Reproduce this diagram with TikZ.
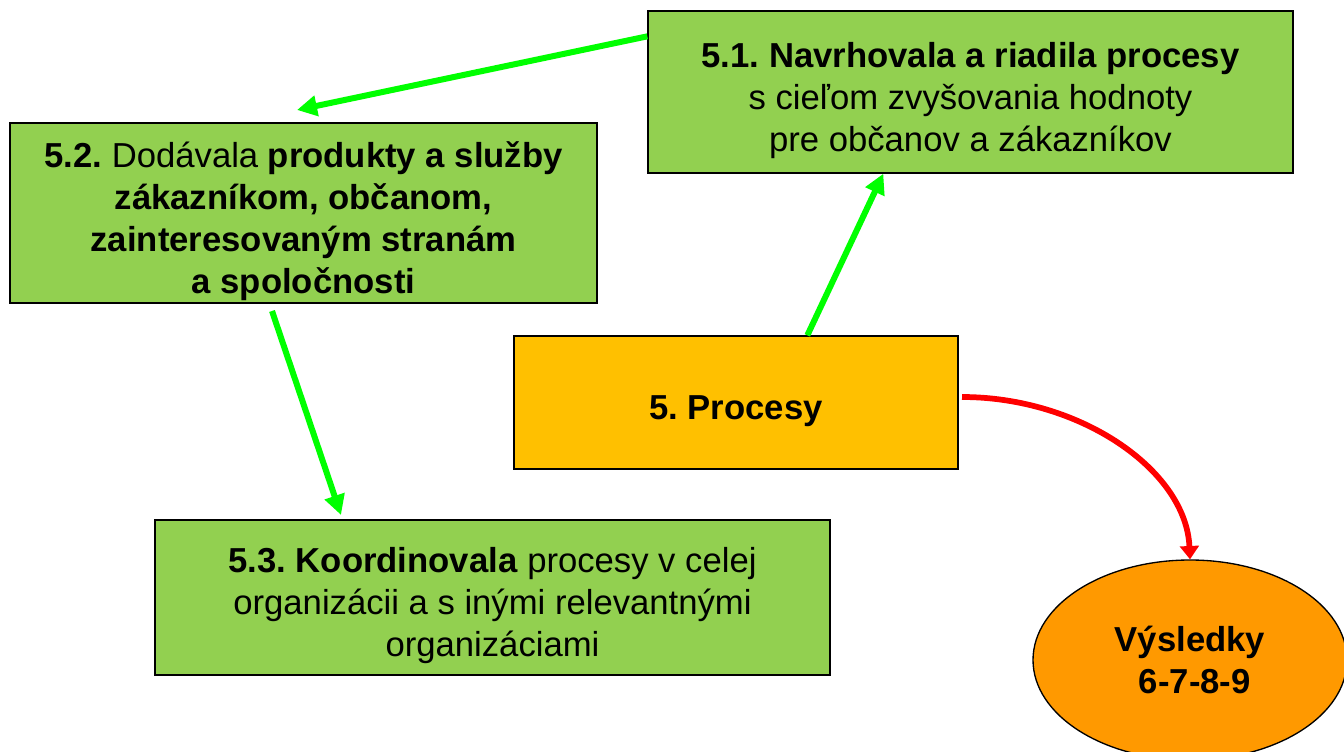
\documentclass[tikz,border=0pt]{standalone}
\usepackage{fontspec}
\setmainfont{Liberation Sans}
\usetikzlibrary{arrows.meta,calc,shapes.geometric}
\definecolor{boxgreen}{HTML}{92D050}
\definecolor{procorange}{HTML}{FFC000}
\definecolor{resorange}{HTML}{FF9900}
\definecolor{arrowgreen}{HTML}{00FF00}
\definecolor{arrowred}{HTML}{FF0000}
% extra room above the first line, so box texts sit a little lower
\newcommand{\toproom}{\rule{0pt}{31pt}}
\tikzset{
  txt/.style={font=\fontsize{26}{31.5}\selectfont\frenchspacing, align=center, inner sep=0pt},
  greenbox/.style={txt, draw=black, line width=1pt, fill=boxgreen},
  procbox/.style={txt, draw=black, line width=1pt, fill=procorange},
  resultnode/.style={txt, ellipse, draw=black, line width=1pt, fill=resorange},
  greenarrow/.style={draw=arrowgreen, line width=4.5pt, -{Triangle[length=15pt,width=15pt]}},
  redarrow/.style={draw=arrowred, line width=4.3pt, -{Triangle[length=10pt,width=14pt]}}
}
\begin{document}
\begin{tikzpicture}[x=0.75pt,y=-0.75pt]
\useasboundingbox (0,0) rectangle (1344,752);
\clip (0,0) rectangle (1344,752);

% process boxes
\node[greenbox, minimum width=483.75pt, minimum height=121.5pt] (n51) at (970.5,92)
  {\toproom\textbf{5.1. Navrhovala a riadila procesy}\\ s cieľom zvyšovania hodnoty\\ pre občanov a zákazníkov};
\node[greenbox, minimum width=440.25pt, minimum height=135pt] (n52) at (303.5,213)
  {\toproom\textbf{5.2.} Dodávala \textbf{produkty a služby}\\ \textbf{zákazníkom, občanom,}\\ \textbf{zainteresovaným stranám}\\ \textbf{a spoločnosti}};
\node[greenbox, minimum width=506.25pt, minimum height=116.25pt] (n53) at (492.5,597.5)
  {\toproom\textbf{5.3. Koordinovala} procesy v celej\\ organizácii a s inými relevantnými\\ organizáciami};
\node[procbox, minimum width=333pt, minimum height=99.75pt] (n5) at (736,402.5)
  {\toproom\textbf{5. Procesy}};
\node[resultnode, minimum width=235.5pt, minimum height=150pt] (res) at (1190,660)
  {\textbf{Výsledky}\\ \textbf{\ 6-7-8-9}};

% free arrow ends
\coordinate (t52) at (297,110);
\coordinate (s53) at (272,311);
\coordinate (t53) at (341,515);
\coordinate (s5r) at (962,397);

% connectors
\draw[greenarrow] ($(n51.north west)+(0,26)$) -- (t52);
\draw[greenarrow] ($(n5.north west)+(294,0)$) -- ($(n51.south west)+(236,0)$);
\draw[greenarrow] (s53) -- (t53);
\draw[redarrow] (s5r) .. controls (1080,397) and (1186,470) .. (res.north);
\end{tikzpicture}
\end{document}
